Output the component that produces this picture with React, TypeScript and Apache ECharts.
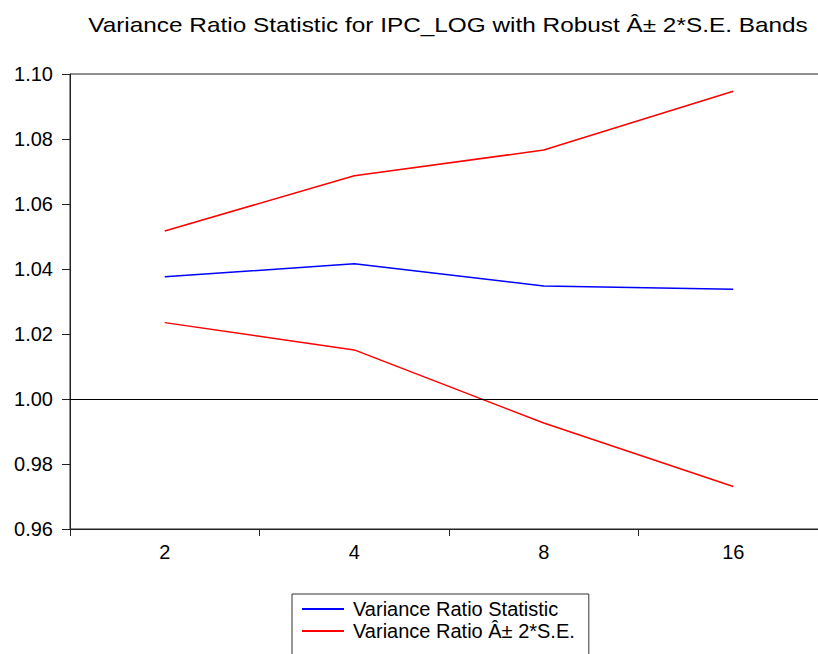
import React, { useEffect, useRef } from "react";
import * as echarts from "echarts";

// Variance ratio test output: holding periods and statistics
const periods = ["2", "4", "8", "16"];
const varianceRatio = [1.0376, 1.0416, 1.0348, 1.0338];
const upperBand = [1.0517, 1.0687, 1.0766, 1.0947];
const lowerBand = [1.0235, 1.0151, 0.9926, 0.9731];

const statName = "Variance Ratio Statistic";
const bandName = "Variance Ratio Â± 2*S.E.";
const titleText = "Variance Ratio Statistic for IPC_LOG with Robust Â± 2*S.E. Bands";

const FONT = "'Liberation Sans', Arial, sans-serif";

export default function App() {
  const ref = useRef<HTMLDivElement>(null);

  useEffect(() => {
    if (!ref.current) return;
    const chart = echarts.init(ref.current, null, { renderer: "svg" });
    chart.setOption({
      animation: false,
      backgroundColor: "#fff",
      textStyle: { fontFamily: FONT },
      graphic: [
        {
          type: "text",
          x: 448,
          y: 25,
          scaleX: 1.16,
          style: {
            text: titleText,
            fontSize: 21,
            fontFamily: FONT,
            fill: "#000",
            align: "center",
            verticalAlign: "middle",
          },
        },
      ],
      grid: {
        left: 70,
        right: 2,
        top: 74,
        bottom: 151,
        show: true,
        borderColor: "#222",
        borderWidth: 1,
        backgroundColor: "transparent",
      },
      xAxis: {
        type: "category",
        data: periods,
        boundaryGap: true,
        axisLine: { lineStyle: { color: "#222", width: 1 } },
        axisTick: { show: true, inside: false, length: 7, alignWithLabel: false, lineStyle: { color: "#222" } },
        axisLabel: { color: "#000", fontSize: 20, margin: 13, fontFamily: FONT },
        splitLine: { show: false },
      },
      yAxis: {
        type: "value",
        min: 0.96,
        max: 1.1,
        interval: 0.02,
        axisLine: { show: true, lineStyle: { color: "#222", width: 1 } },
        axisTick: { show: true, inside: false, length: 8, lineStyle: { color: "#222" } },
        axisLabel: {
          color: "#000",
          fontSize: 20,
          margin: 17,
          fontFamily: FONT,
          formatter: (v: number) => v.toFixed(2),
        },
        splitLine: { show: false },
      },
      legend: {
        orient: "vertical",
        left: 292,
        top: 594,
        padding: [5, 14, 20, 10],
        itemGap: 2,
        itemWidth: 42,
        itemHeight: 2,
        icon: "rect",
        borderColor: "#333",
        borderWidth: 1,
        data: [statName, bandName],
        textStyle: { fontSize: 20, color: "#000", fontFamily: FONT, padding: [0, 0, 0, 4] },
      },
      series: [
        {
          name: statName,
          type: "line",
          data: varianceRatio,
          symbol: "none",
          lineStyle: { color: "#0000ff", width: 1.5 },
          itemStyle: { color: "#0000ff" },
          markLine: {
            silent: true,
            symbol: "none",
            label: { show: false },
            lineStyle: { color: "#000", width: 1, type: "solid" },
            data: [{ yAxis: 1.0 }],
          },
        },
        {
          name: bandName,
          type: "line",
          data: upperBand,
          symbol: "none",
          lineStyle: { color: "#ff0000", width: 1.5 },
          itemStyle: { color: "#ff0000" },
        },
        {
          name: bandName,
          type: "line",
          data: lowerBand,
          symbol: "none",
          lineStyle: { color: "#ff0000", width: 1.5 },
          itemStyle: { color: "#ff0000" },
        },
      ],
    });
    return () => chart.dispose();
  }, []);

  return (
    <div
      style={{
        position: "fixed",
        left: 0,
        top: 0,
        width: 818,
        height: 654,
        overflow: "hidden",
        background: "#fff",
      }}
    >
      <div ref={ref} style={{ width: 830, height: 680 }} />
    </div>
  );
}
